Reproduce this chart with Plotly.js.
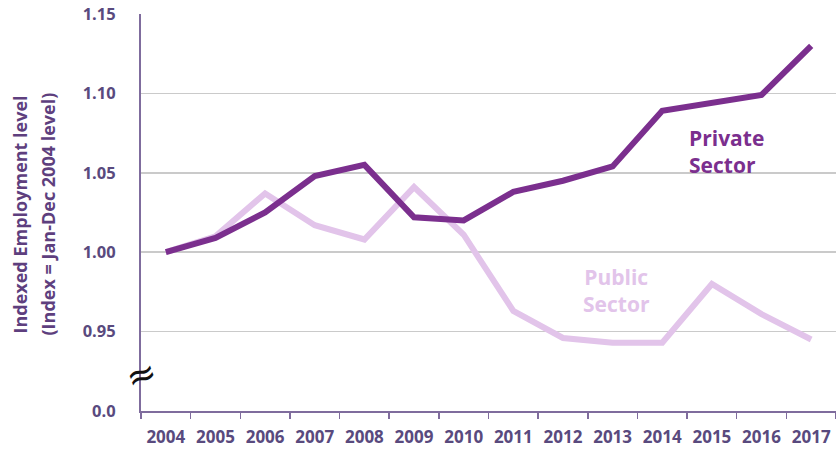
<!DOCTYPE html>
<html>
<head>
<meta charset="utf-8">
<script src="https://cdn.plot.ly/plotly-3.0.1.min.js"></script>
<style>html,body{margin:0;padding:0;background:#fff;}#chart{width:836px;height:449px;}</style>
</head>
<body>
<div id="chart"></div>
<script>
const years = ["2004","2005","2006","2007","2008","2009","2010","2011","2012","2013","2014","2015","2016","2017"];
const privateSector = [1.000,1.009,1.025,1.048,1.055,1.022,1.020,1.038,1.045,1.054,1.089,1.094,1.099,1.130];
const publicSector  = [1.000,1.010,1.037,1.017,1.008,1.041,1.011,0.963,0.946,0.943,0.943,0.980,0.961,0.945];
const yTickVals = [0.90,0.95,1.00,1.05,1.10,1.15];
const yTickText = ["0.0","0.95","1.00","1.05","1.10","1.15"];
const yTitleLines = ["Indexed Employment level", "(Index = Jan-Dec 2004 level)"];

const privateColor = "#7b2f8e";
const publicColor = "#e2c4ea";
const axisColor = "#7f6c9d";
const labelColor = "#594a7e";
const font = "'Open Sans', sans-serif";

const traces = [
  {x: years, y: publicSector, type: "scatter", mode: "lines", name: "Public Sector",
   line: {color: publicColor, width: 6, shape: "linear"}},
  {x: years, y: privateSector, type: "scatter", mode: "lines", name: "Private Sector",
   line: {color: privateColor, width: 6, shape: "linear"}}
];

const layout = {
  width: 836, height: 449,
  margin: {l: 141, r: 0, t: 14, b: 38},
  paper_bgcolor: "#fff", plot_bgcolor: "#fff",
  showlegend: false,
  font: {family: font, color: labelColor},
  xaxis: {
    type: "category", range: [-0.5, 13.5],
    tickson: "boundaries", ticks: "outside", ticklen: 6, tickwidth: 1.5, tickcolor: axisColor,
    showline: true, linecolor: axisColor, linewidth: 2,
    showgrid: false, zeroline: false, ticklabelstandoff: 10,
    tickfont: {family: font, size: 17, color: labelColor, weight: "bold"}
  },
  yaxis: {
    range: [0.90, 1.15], tickvals: yTickVals, ticktext: yTickText,
    showline: true, linecolor: axisColor, linewidth: 2,
    showgrid: true, gridcolor: "#cacaca", gridwidth: 1.5, zeroline: false,
    ticks: "", ticklabelstandoff: 20,
    tickfont: {family: font, size: 16.5, color: labelColor, weight: "bold"}
  },
  annotations: [
    {xref: "paper", yref: "paper", x: -0.1741, y: 0.495, text: yTitleLines[0], showarrow: false, textangle: -90,
     font: {family: font, size: 18, color: "#5e3f7e", weight: "bold"}, xanchor: "center", yanchor: "middle"},
    {xref: "paper", yref: "paper", x: -0.1338, y: 0.495, text: yTitleLines[1], showarrow: false, textangle: -90,
     font: {family: font, size: 18, color: "#5e3f7e", weight: "bold"}, xanchor: "center", yanchor: "middle"},
    {xref: "paper", yref: "y", x: 0, y: 0.9232, text: "≈", showarrow: false, textangle: -20,
     font: {family: "DejaVu Sans", size: 36, color: "#111"}, xanchor: "center", yanchor: "middle"},
    {xref: "x", yref: "y", x: 11.3, y: 1.0635, text: "Private<br>Sector", showarrow: false,
     font: {family: font, size: 21, color: privateColor, weight: "bold"}, align: "left"},
    {xref: "x", yref: "y", x: 9.07, y: 0.9759, text: "Public<br>Sector", showarrow: false,
     font: {family: font, size: 21, color: publicColor, weight: "bold"}, align: "center"}
  ]
};

Plotly.newPlot("chart", traces, layout, {displayModeBar: false, staticPlot: true});
</script>
</body>
</html>
